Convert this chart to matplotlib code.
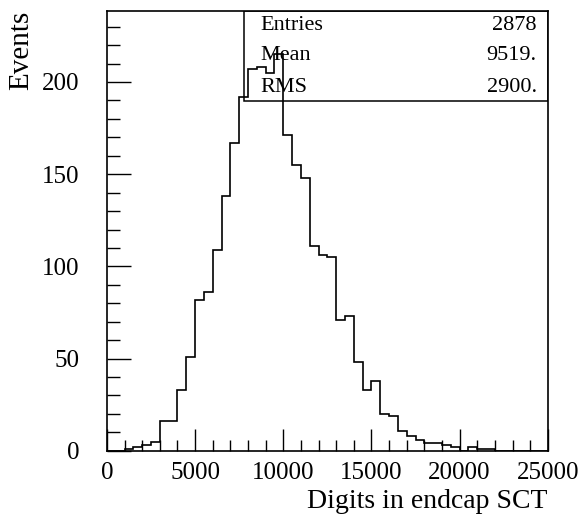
import numpy as np
import matplotlib.pyplot as plt
from matplotlib.ticker import MultipleLocator

plt.rcParams['font.family'] = ['Liberation Serif', 'DejaVu Serif']

# 50 bins of 500 digits from 0 to 25000
bin_edges = np.arange(0, 25001, 500)
counts = [0, 0, 1, 2, 3, 5, 16, 16, 33, 51,
          82, 86, 109, 138, 167, 192, 207, 208, 205, 215,
          171, 155, 148, 111, 106, 105, 71, 73, 48, 33,
          38, 20, 19, 11, 8, 6, 4, 4, 3, 2,
          0, 2, 1, 1, 0, 0, 0, 0, 0, 0]

stat_names = ["Entries", "Mean", "RMS"]
stat_values = ["2878", "9519.", "2900."]

fig = plt.figure(figsize=(5.84, 5.23), dpi=100)
ax = fig.add_axes([0.183, 0.138, 0.755, 0.841])

# stats box sits under the histogram line
box = plt.Rectangle((0.311, 0.795), 0.689, 0.205, transform=ax.transAxes,
                    facecolor='white', edgecolor='black', linewidth=1.1, zorder=1)
ax.add_patch(box)
rows_y = [0.966, 0.898, 0.827]
for name, val, yy in zip(stat_names, stat_values, rows_y):
    ax.text(0.349, yy, name, transform=ax.transAxes, fontsize=16,
            ha='left', va='center', zorder=2)
    ax.text(0.975, yy, val, transform=ax.transAxes, fontsize=16,
            ha='right', va='center', zorder=2)

ax.stairs(counts, bin_edges, color='black', linewidth=1.2, zorder=3)

ax.set_xlim(0, 25000)
ax.set_ylim(0, 238.5)
ax.xaxis.set_major_locator(MultipleLocator(5000))
ax.xaxis.set_minor_locator(MultipleLocator(1000))
ax.yaxis.set_major_locator(MultipleLocator(50))
ax.yaxis.set_minor_locator(MultipleLocator(10))

ax.tick_params(axis='both', which='both', direction='in', top=False, right=False,
               labelsize=18, width=1.0)
ax.tick_params(axis='x', which='major', length=16, pad=8)
ax.tick_params(axis='x', which='minor', length=8)
ax.tick_params(axis='y', which='major', length=17, pad=19.5)
ax.tick_params(axis='y', which='minor', length=9)

for sp in ax.spines.values():
    sp.set_linewidth(1.2)

ax.set_xlabel("Digits in endcap SCT", fontsize=20, loc='right', labelpad=4)
ax.set_ylabel("Events", fontsize=21, loc='top', labelpad=6)

fig.savefig("out.png", dpi=100)
